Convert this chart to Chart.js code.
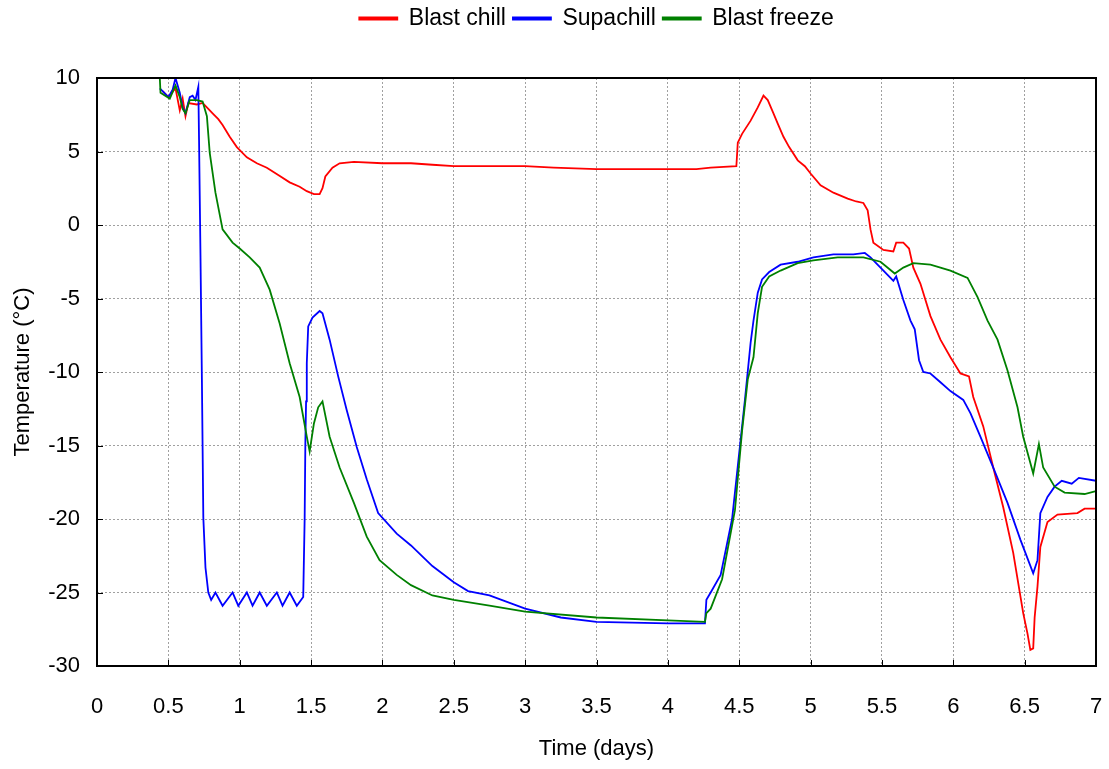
<!DOCTYPE html>
<html>
<head>
<meta charset="utf-8">
<script src="https://cdn.jsdelivr.net/npm/chart.js@4/dist/chart.umd.min.js"></script>
<style>
  html, body { margin: 0; padding: 0; background: #fff; }
  #wrap { width: 1109px; height: 769px; }
</style>
</head>
<body>
<div id="wrap"><canvas id="tempChart" width="1109" height="769"></canvas></div>
<script>
// series (days, °C)
const seriesNames = ["Blast chill", "Supachill", "Blast freeze"];
const seriesColors = ["#ff0000", "#0000ff", "#008000"];

const chillDays = [0.46, 0.5, 0.55, 0.58, 0.6, 0.62, 0.64, 0.7, 0.74, 0.78, 0.81, 0.85, 0.88, 0.93, 0.98, 1.05, 1.12, 1.19, 1.27, 1.35, 1.42, 1.47, 1.52, 1.56, 1.58, 1.6, 1.65, 1.7, 1.8, 2.0, 2.2, 2.35, 2.5, 2.8, 3.0, 3.2, 3.5, 3.8, 4.0, 4.2, 4.3, 4.48, 4.49, 4.52, 4.58, 4.63, 4.67, 4.7, 4.74, 4.77, 4.81, 4.85, 4.91, 4.96, 5.0, 5.07, 5.16, 5.26, 5.32, 5.37, 5.4, 5.42, 5.44, 5.51, 5.58, 5.6, 5.65, 5.69, 5.72, 5.77, 5.84, 5.91, 5.98, 6.05, 6.11, 6.14, 6.21, 6.28, 6.35, 6.42, 6.49, 6.52, 6.54, 6.56, 6.57, 6.59, 6.61, 6.66, 6.73, 6.87, 6.92, 7.0];
const chillTemps = [9.1, 8.7, 9.3, 7.8, 8.6, 7.4, 8.3, 8.2, 8.3, 7.9, 7.6, 7.2, 6.8, 6.0, 5.3, 4.6, 4.2, 3.9, 3.4, 2.9, 2.6, 2.3, 2.1, 2.1, 2.5, 3.3, 3.9, 4.2, 4.3, 4.2, 4.2, 4.1, 4.0, 4.0, 4.0, 3.9, 3.8, 3.8, 3.8, 3.8, 3.9, 4.0, 5.6, 6.2, 7.1, 8.0, 8.8, 8.5, 7.6, 6.9, 6.0, 5.3, 4.4, 4.0, 3.5, 2.7, 2.2, 1.8, 1.6, 1.5, 1.0, -0.3, -1.2, -1.7, -1.8, -1.2, -1.2, -1.6, -2.9, -4.0, -6.2, -7.8, -9.0, -10.1, -10.3, -11.7, -13.7, -16.5, -19.2, -22.3, -26.4, -27.8, -28.9, -28.8, -26.7, -24.6, -21.9, -20.2, -19.7, -19.6, -19.3, -19.3];

const supaDays = [0.44, 0.47, 0.5, 0.53, 0.55, 0.58, 0.6, 0.62, 0.65, 0.67, 0.69, 0.71, 0.715, 0.725, 0.735, 0.745, 0.76, 0.78, 0.8, 0.83, 0.88, 0.95, 0.99, 1.05, 1.09, 1.14, 1.19, 1.26, 1.3, 1.35, 1.4, 1.445, 1.455, 1.46, 1.465, 1.47, 1.48, 1.51, 1.56, 1.58, 1.63, 1.69, 1.75, 1.82, 1.89, 1.97, 2.1, 2.2, 2.35, 2.5, 2.6, 2.75, 3.0, 3.25, 3.5, 4.0, 4.26, 4.27, 4.3, 4.37, 4.45, 4.51, 4.54, 4.58, 4.6, 4.63, 4.66, 4.71, 4.79, 4.91, 5.02, 5.16, 5.3, 5.38, 5.42, 5.49, 5.56, 5.58, 5.6, 5.65, 5.7, 5.73, 5.76, 5.79, 5.84, 5.91, 5.98, 6.07, 6.12, 6.19, 6.28, 6.38, 6.47, 6.56, 6.59, 6.61, 6.66, 6.71, 6.76, 6.83, 6.88, 7.0];
const supaTemps = [9.3, 9.0, 8.7, 9.2, 10.0, 9.0, 8.0, 7.6, 8.7, 8.8, 8.5, 9.4, 5.8, -2.0, -10.5, -19.9, -23.3, -25.0, -25.5, -25.0, -25.9, -25.0, -25.9, -25.0, -25.9, -25.0, -25.9, -25.0, -25.9, -25.0, -25.9, -25.3, -20.0, -14.8, -12.0, -9.4, -6.9, -6.3, -5.85, -6.0, -7.8, -10.3, -12.6, -15.1, -17.3, -19.6, -21.0, -21.8, -23.2, -24.3, -24.9, -25.2, -26.1, -26.7, -27.0, -27.1, -27.1, -25.5, -25.0, -23.8, -20.0, -14.6, -11.9, -8.0, -6.5, -4.6, -3.7, -3.2, -2.7, -2.5, -2.2, -2.0, -2.0, -1.9, -2.2, -2.9, -3.6, -3.8, -3.5, -5.1, -6.5, -7.1, -9.2, -10.0, -10.1, -10.7, -11.3, -11.9, -12.8, -14.4, -16.5, -18.9, -21.4, -23.7, -22.8, -19.6, -18.5, -17.8, -17.4, -17.6, -17.2, -17.4];

const freezeDays = [0.44, 0.445, 0.51, 0.55, 0.58, 0.6, 0.62, 0.65, 0.7, 0.74, 0.77, 0.79, 0.83, 0.88, 0.95, 1.0, 1.07, 1.14, 1.21, 1.28, 1.35, 1.42, 1.47, 1.49, 1.52, 1.55, 1.58, 1.63, 1.7, 1.8, 1.89, 1.98, 2.1, 2.2, 2.35, 2.5, 2.75, 3.0, 3.5, 4.0, 4.26, 4.27, 4.3, 4.38, 4.47, 4.52, 4.56, 4.6, 4.63, 4.66, 4.71, 4.79, 4.91, 5.02, 5.19, 5.37, 5.49, 5.59, 5.65, 5.72, 5.84, 5.98, 6.1, 6.17, 6.24, 6.31, 6.38, 6.45, 6.49, 6.56, 6.6, 6.63, 6.71, 6.78, 6.92, 7.0];
const freezeTemps = [10.0, 9.0, 8.6, 9.5, 8.7, 7.9, 7.6, 8.5, 8.5, 8.4, 7.4, 4.9, 2.2, -0.3, -1.2, -1.6, -2.2, -2.9, -4.4, -6.7, -9.4, -11.7, -14.4, -15.4, -13.5, -12.4, -12.0, -14.4, -16.5, -18.9, -21.2, -22.8, -23.8, -24.5, -25.2, -25.5, -25.9, -26.3, -26.7, -26.9, -27.0, -26.4, -26.1, -24.1, -19.4, -14.0, -10.5, -9.0, -6.0, -4.2, -3.5, -3.1, -2.6, -2.4, -2.2, -2.2, -2.5, -3.3, -2.9, -2.6, -2.7, -3.1, -3.6, -4.9, -6.5, -7.8, -9.9, -12.4, -14.4, -16.9, -14.9, -16.5, -17.8, -18.2, -18.3, -18.1];

const xMin = 0, xMax = 7, xStep = 0.5;
const yMin = -30, yMax = 10, yStep = 5;

const FONT = "'Liberation Sans', Arial, sans-serif";

function toPoints(days, temps) {
  return days.map((d, i) => ({ x: d, y: temps[i] }));
}

const allDays = [chillDays, supaDays, freezeDays];
const allTemps = [chillTemps, supaTemps, freezeTemps];

const datasets = seriesNames.map((name, i) => ({
  label: name,
  data: toPoints(allDays[i], allTemps[i]),
  borderColor: seriesColors[i],
  backgroundColor: seriesColors[i],
  borderWidth: 1.8,
  pointRadius: 0,
  tension: 0,
  order: 2 - i
}));

// frame round the plot + short inward tick marks
const framePlugin = {
  id: "frame",
  afterDraw(chart) {
    const { ctx, chartArea: a, scales } = chart;
    ctx.save();
    ctx.strokeStyle = "#000";
    ctx.lineWidth = 1;
    scales.x.ticks.forEach(t => {
      const px = Math.round(scales.x.getPixelForValue(t.value)) + 0.5;
      ctx.beginPath();
      ctx.moveTo(px, a.bottom);
      ctx.lineTo(px, a.bottom - 6);
      ctx.stroke();
    });
    scales.y.ticks.forEach(t => {
      const py = Math.round(scales.y.getPixelForValue(t.value)) + 0.5;
      ctx.beginPath();
      ctx.moveTo(a.left, py);
      ctx.lineTo(a.left + 6, py);
      ctx.stroke();
    });
    ctx.lineWidth = 2;
    ctx.strokeRect(a.left, a.top, a.right - a.left, a.bottom - a.top);
    ctx.restore();
  }
};

const legendHeight = {
  id: "legendHeight",
  beforeInit(chart) {
    const fit = chart.legend.fit;
    chart.legend.fit = function () {
      fit.bind(chart.legend)();
      this.height = 78;
    };
  }
};

new Chart(document.getElementById("tempChart"), {
  type: "line",
  data: { datasets },
  options: {
    responsive: false,
    animation: false,
    layout: { padding: { left: 0, right: 13, top: 0, bottom: 0 } },
    plugins: {
      legend: {
        position: "top",
        fullSize: false,
        labels: {
          boxWidth: 38,
          boxHeight: 2,
          padding: 7,
          color: "#000",
          font: { family: FONT, size: 23 },
          sort: (a, b) => a.datasetIndex - b.datasetIndex
        }
      },
      tooltip: { enabled: false }
    },
    scales: {
      x: {
        type: "linear",
        min: xMin,
        max: xMax,
        ticks: {
          stepSize: xStep,
          color: "#000",
          padding: 28,
          font: { family: FONT, size: 22 },
          callback: v => String(v)
        },
        grid: { color: "#a0a0a0", lineWidth: 1, drawTicks: false },
        border: { display: false, dash: [2, 2] },
        title: {
          display: true,
          text: "Time (days)",
          color: "#000",
          font: { family: FONT, size: 22 },
          padding: { top: 0, bottom: 7 }
        },
        afterFit(scale) {
          scale.height = 103;
          scale.paddingLeft = 0;
          scale.paddingRight = 0;
        }
      },
      y: {
        min: yMin,
        max: yMax,
        ticks: {
          stepSize: yStep,
          color: "#000",
          padding: 17,
          font: { family: FONT, size: 22 }
        },
        grid: { color: "#a0a0a0", lineWidth: 1, drawTicks: false },
        border: { display: false, dash: [2, 2] },
        title: {
          display: true,
          text: "Temperature (°C)",
          color: "#000",
          font: { family: FONT, size: 22 },
          padding: { top: 10, bottom: 0 }
        },
        afterFit(scale) { scale.width = 97; }
      }
    }
  },
  plugins: [framePlugin, legendHeight]
});
</script>
</body>
</html>
